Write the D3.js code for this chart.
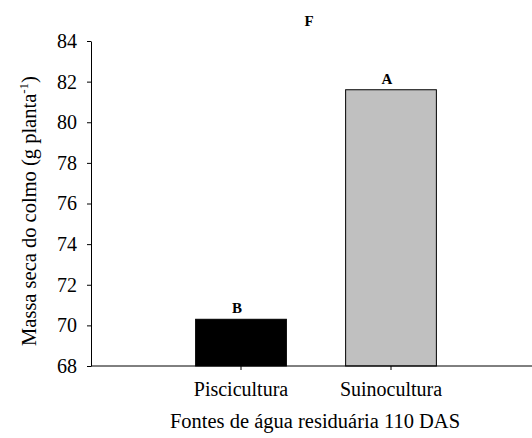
<!DOCTYPE html>
<html>
<head>
<meta charset="utf-8">
<script src="https://cdn.jsdelivr.net/npm/d3@7"></script>
<style>
  html, body { margin: 0; padding: 0; background: #fff; }
  svg { display: block; font-family: "Liberation Serif", "Times New Roman", serif; }
</style>
</head>
<body>
<svg id="chart" width="532" height="438"></svg>
<script>
// Dry stalk mass by wastewater source at 110 DAS
const categories = ["Piscicultura", "Suinocultura"];
const values = [70.3, 81.6];
const letters = ["B", "A"];
const barColors = ["#000000", "#c0c0c0"];
const yTicks = [68, 70, 72, 74, 76, 78, 80, 82, 84];

const svg = d3.select("#chart");
const margin = { left: 91, top: 41, bottom: 366 };
const axisEnd = 541;

const y = d3.scaleLinear().domain([68, 84]).range([margin.bottom, margin.top]);
const x = d3.scaleBand().domain(categories).range([margin.left + 75, axisEnd - 75]);
const barW = x.bandwidth() * 0.605;

// Bars
svg.append("g").selectAll("rect")
  .data(values)
  .join("rect")
  .attr("x", (d, i) => x(categories[i]) + (x.bandwidth() - barW) / 2)
  .attr("y", d => y(d))
  .attr("width", barW)
  .attr("height", d => y(68) - y(d))
  .attr("fill", (d, i) => barColors[i])
  .attr("stroke", "#000")
  .attr("stroke-width", 1);

// Significance letters above bars
svg.append("g").selectAll("text")
  .data(values)
  .join("text")
  .attr("x", (d, i) => x(categories[i]) + x.bandwidth() / 2 - 4)
  .attr("y", d => y(d) - 6)
  .attr("text-anchor", "middle")
  .attr("font-weight", "bold")
  .attr("font-size", 15)
  .text((d, i) => letters[i]);

// Y axis
const yAxis = svg.append("g")
  .attr("transform", `translate(${margin.left},0)`)
  .call(d3.axisLeft(y).tickValues(yTicks).tickSize(4).tickSizeOuter(0).tickPadding(10));
yAxis.selectAll("text").attr("font-size", 20).attr("font-family", "Liberation Serif").attr("fill", "#000");
yAxis.select(".domain").attr("stroke", "#000");
yAxis.selectAll("line").attr("stroke", "#000");

// X axis
const xAxisG = svg.append("g")
  .attr("transform", `translate(0,${margin.bottom})`);
xAxisG.append("line")
  .attr("x1", margin.left).attr("x2", axisEnd)
  .attr("y1", 0).attr("y2", 0)
  .attr("stroke", "#000");
xAxisG.call(d3.axisBottom(x).tickSize(4).tickSizeOuter(0).tickPadding(12));
xAxisG.select(".domain").remove();
xAxisG.selectAll("text").attr("font-size", 20).attr("font-family", "Liberation Serif").attr("fill", "#000");
xAxisG.selectAll("line").attr("stroke", "#000");

// Panel label
svg.append("text")
  .attr("x", 309).attr("y", 26)
  .attr("text-anchor", "middle")
  .attr("font-weight", "bold")
  .attr("font-size", 15)
  .text("F");

// Axis titles
svg.append("text")
  .attr("x", 315).attr("y", 428)
  .attr("text-anchor", "middle")
  .attr("font-size", 20.5)
  .text("Fontes de água residuária 110 DAS");

const yTitle = svg.append("text")
  .attr("transform", `translate(36,${211}) rotate(-90)`)
  .attr("text-anchor", "middle")
  .attr("font-size", 20.5);
yTitle.append("tspan").text("Massa seca do colmo (g planta");
yTitle.append("tspan").attr("font-size", 13).attr("dy", -8).text("-1");
yTitle.append("tspan").attr("dy", 8).text(")");
</script>
</body>
</html>
